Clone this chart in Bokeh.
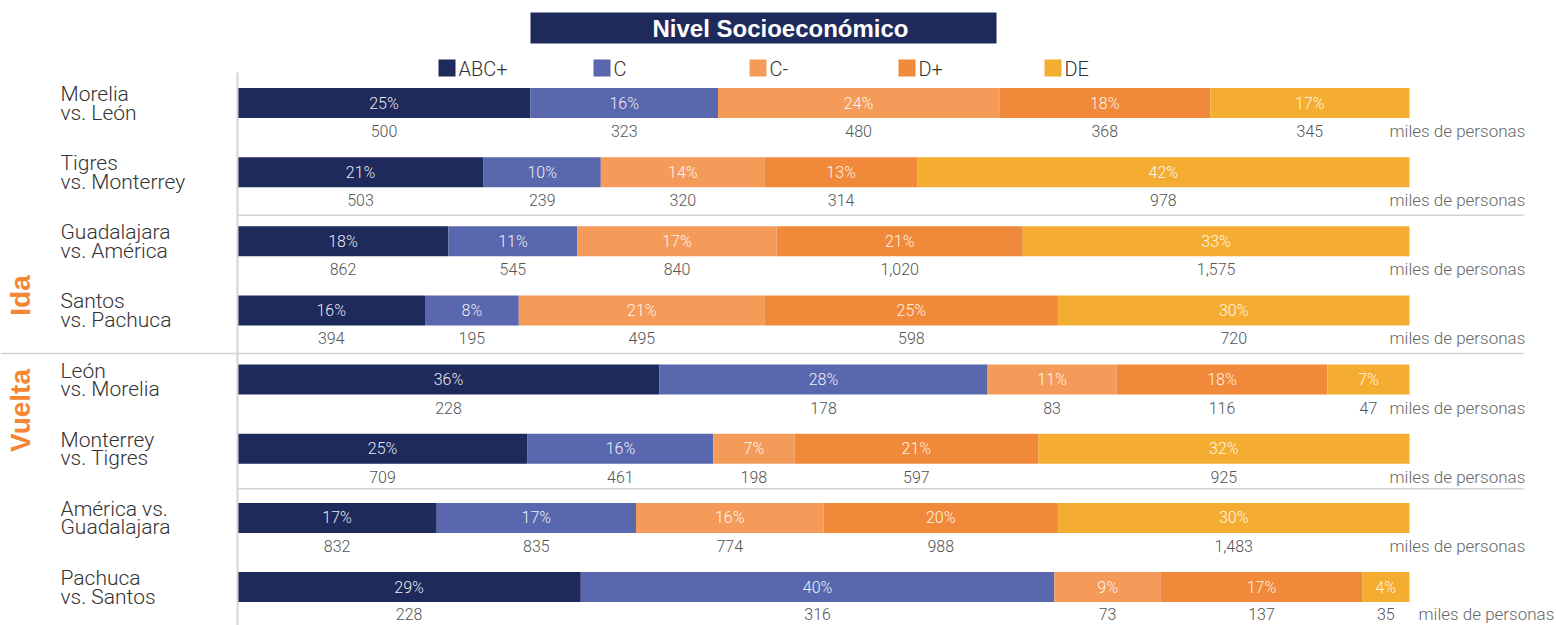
from bokeh.plotting import figure
from bokeh.models import Range1d, ColumnDataSource
from bokeh.core.properties import value
from bokeh.embed import file_html
from bokeh.resources import INLINE

# ---- data -------------------------------------------------------------
matches = [
    ("Morelia", "vs. León"),
    ("Tigres", "vs. Monterrey"),
    ("Guadalajara", "vs. América"),
    ("Santos", "vs. Pachuca"),
    ("León", "vs. Morelia"),
    ("Monterrey", "vs. Tigres"),
    ("América vs.", "Guadalajara"),
    ("Pachuca", "vs. Santos"),
]
segments = ["ABC+", "C", "C-", "D+", "DE"]
colors = ["#1f2a5c", "#5967ae", "#f59b5a", "#f08a3a", "#f5ad31"]

# share of each socioeconomic level (%)
pct_abc = [25, 21, 18, 16, 36, 25, 17, 29]
pct_c = [16, 10, 11, 8, 28, 16, 17, 40]
pct_cm = [24, 14, 17, 21, 11, 7, 16, 9]
pct_dp = [18, 13, 21, 25, 18, 21, 20, 17]
pct_de = [17, 42, 33, 30, 7, 32, 30, 4]

# audience in thousands of people
val_abc = [500, 503, 862, 394, 228, 709, 832, 228]
val_c = [323, 239, 545, 195, 178, 461, 835, 316]
val_cm = [480, 320, 840, 495, 83, 198, 774, 73]
val_dp = [368, 314, 1020, 598, 116, 597, 988, 137]
val_de = [345, 978, 1575, 720, 47, 925, 1483, 35]

title = "Nivel Socioeconómico"
unit_label = "miles de personas"
leg_labels = ["Ida", "Vuelta"]

pcts = [pct_abc, pct_c, pct_cm, pct_dp, pct_de]
vals = [val_abc, val_c, val_cm, val_dp, val_de]

# ---- layout -------------------------------------------------------------
W, H = 1556, 625
X0, BAR_W = 237, 1172          # pixel start / width of a 100 % bar
S = BAR_W / 100.0              # pixels per percent
ROW0, ROW_STEP = 102.5, 69.15  # row centres in pixels (y grows downward)
BAR_H = 30

def px(x):
    """pixel column -> x data units (percent)"""
    return (x - X0) / S

LIGHT = value("'Roboto Light', Roboto, sans-serif")
BOLD = value("'Liberation Sans', Arial, sans-serif")

p = figure(width=W, height=H, x_range=Range1d(px(0), px(W)), y_range=Range1d(H, 0),
           output_backend="svg", toolbar_location=None, min_border=0,
           x_axis_type=None, y_axis_type=None)
p.grid.visible = False
p.outline_line_color = None
p.background_fill_color = "white"
p.border_fill_color = "white"

n = len(matches)
ys = [ROW0 + i * ROW_STEP for i in range(n)]
# value-label rows under each bar (the last one kept inside the canvas)
vys = [y + (27 if i == n - 1 else 28) for i, y in enumerate(ys)]

# normalised stacking
totals = [sum(pcts[k][i] for k in range(5)) for i in range(n)]
left = [0.0] * n
for k in range(5):
    w = [pcts[k][i] / totals[i] * 100 for i in range(n)]
    right = [left[i] + w[i] for i in range(n)]
    mid = [(left[i] + right[i]) / 2 for i in range(n)]
    src = ColumnDataSource(dict(
        y=ys, left=left, right=right, mid=mid,
        pct=[f"{v}%" for v in pcts[k]],
        val=[f"{v:,}" for v in vals[k]],
        vy=vys,
    ))
    p.hbar(y="y", left="left", right="right", height=BAR_H, source=src,
           fill_color=colors[k], line_color=None)
    p.text(x="mid", y="y", text="pct", source=src, text_color="#ffffff",
           text_font=LIGHT, text_font_size="16px", text_align="center",
           text_baseline="middle", text_alpha=0.92)
    p.text(x="mid", y="vy", text="val", source=src, text_color="#555555",
           text_font=LIGHT, text_font_size="16px", text_align="center",
           text_baseline="middle")
    left = right

# unit label at the end of each row
ux = [px(1389)] * (n - 1) + [px(1418)]
p.text(x=ux, y=vys, text=[unit_label] * n, text_color="#666666", text_font=LIGHT,
       text_font_size="17px", text_align="left", text_baseline="middle")

# match names
p.text(x=[px(60)] * n, y=[y - 9 for y in ys], text=[m[0] for m in matches],
       text_color="#333333", text_font=LIGHT, text_font_size="21px",
       text_baseline="middle")
p.text(x=[px(60)] * n, y=[y + 9.5 for y in ys], text=[m[1] for m in matches],
       text_color="#333333", text_font=LIGHT, text_font_size="21px",
       text_baseline="middle")

# leg names (rotated)
p.text(x=[px(20), px(20)], y=[295, 410], text=leg_labels, angle=1.5708,
       text_color="#f58634", text_font=BOLD, text_font_style="bold",
       text_font_size="28px", text_align="center", text_baseline="middle")

# guide lines
p.segment(x0=[px(X0)], y0=[72], x1=[px(X0)], y1=[H], line_color="#d4d4d4", line_width=2)
sep_y = [ys[1] + 43, ys[3] + 43, ys[5] + 40]
sep_x0 = [px(X0), px(0), px(X0)]
p.segment(x0=sep_x0, y0=sep_y, x1=[px(1523)] * 3, y1=sep_y,
          line_color="#d4d4d4", line_width=1.5)

# title banner
p.quad(left=[px(530)], right=[px(996)], top=[12], bottom=[43],
       fill_color="#1f2a5c", line_color=None)
p.text(x=[px(780)], y=[28], text=[title], text_color="white", text_font=BOLD,
       text_font_style="bold", text_font_size="24px", text_align="center",
       text_baseline="middle")

# legend
lx = [438, 593, 749, 898, 1044]
p.quad(left=[px(x) for x in lx], right=[px(x + 17) for x in lx],
       top=[59] * 5, bottom=[76] * 5, fill_color=colors, line_color=None)
p.text(x=[px(x + 20) for x in lx], y=[68] * 5, text=segments, text_color="#333333",
       text_font=LIGHT, text_font_size="20px", text_baseline="middle")

open("out.html", "w").write(file_html(p, INLINE))
